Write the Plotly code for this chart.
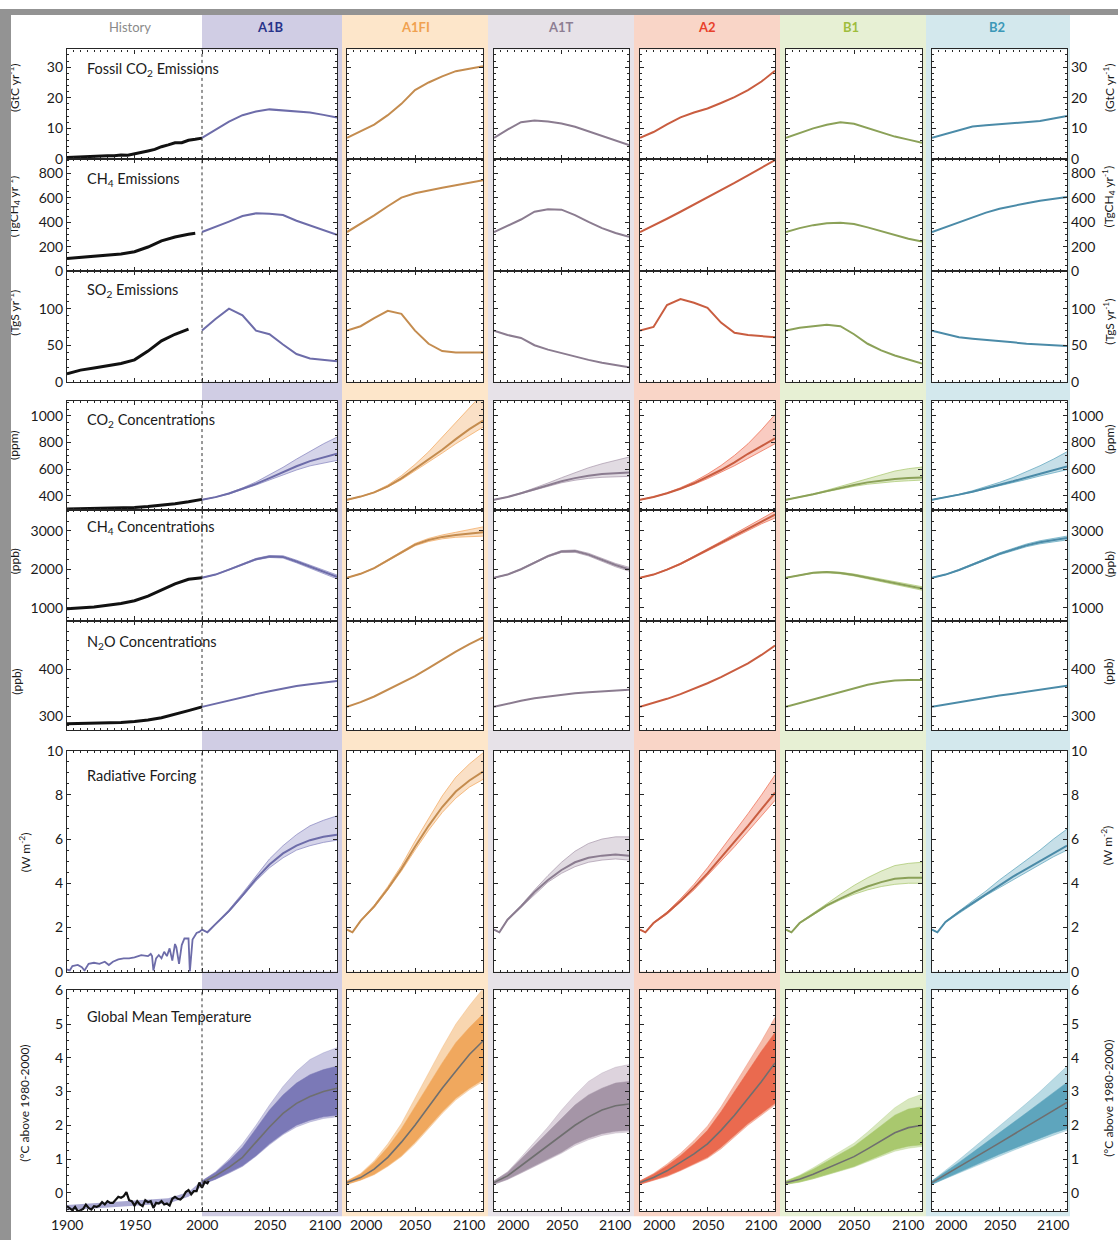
import plotly.graph_objects as go

W, H = 1118, 1240

# ---------------- data ----------------
SCENARIOS = ["A1B", "A1FI", "A1T", "A2", "B1", "B2"]
HEADER_LABELS = ["History", "A1B", "A1FI", "A1T", "A2", "B1", "B2"]
YEARS = [2000, 2010, 2020, 2030, 2040, 2050, 2060, 2070, 2080, 2090, 2100]
RF_YEARS = [2000, 2004, 2010, 2020, 2030, 2040, 2050, 2060, 2070, 2080, 2090, 2100]

ROW_TITLES = ["Fossil CO<sub>2</sub> Emissions", "CH<sub>4</sub> Emissions", "SO<sub>2</sub> Emissions",
              "CO<sub>2</sub> Concentrations", "CH<sub>4</sub> Concentrations", "N<sub>2</sub>O Concentrations",
              "Radiative Forcing", "Global Mean Temperature"]
ROW_UNITS = ["(GtC yr<sup>-1</sup>)", "(TgCH<sub>4</sub> yr<sup>-1</sup>)", "(TgS yr<sup>-1</sup>)",
             "(ppm)", "(ppb)", "(ppb)", "(W m<sup>-2</sup>)", "(°C above 1980-2000)"]
ROW_TICKS = [[0, 10, 20, 30], [0, 200, 400, 600, 800], [0, 50, 100],
             [400, 600, 800, 1000], [1000, 2000, 3000], [300, 400],
             [0, 2, 4, 6, 8, 10], [0, 1, 2, 3, 4, 5, 6]]
ROW_RANGES = [[0, 35.8], [0, 915], [0, 151], [292, 1115], [667, 3538], [271, 503], [0, 10], [-0.55, 6]]
ROW_MINOR = [2, 50, 10, 50, 250, 20, 0.5, 0.25]
HIST_XTICKS = [1900, 1950, 2000, 2050, 2100]
SCEN_XTICKS = [2000, 2050, 2100]

# history
HIST_CO2E_YRS = [1900, 1905, 1910, 1915, 1920, 1925, 1930, 1935, 1940, 1945, 1950, 1955, 1960, 1965, 1970,
                 1975, 1980, 1985, 1990, 1995, 2000]
HIST_CO2E = [0.5, 0.6, 0.8, 0.9, 0.95, 1.0, 1.05, 1.0, 1.3, 1.2, 1.6, 2.0, 2.6, 3.1, 4.0, 4.6, 5.3, 5.3,
             6.1, 6.4, 6.8]
HIST_CH4E_YRS = [1900, 1910, 1920, 1930, 1940, 1950, 1960, 1970, 1980, 1990, 1995]
HIST_CH4E = [105, 115, 125, 135, 142, 160, 198, 248, 280, 302, 310]
HIST_SO2_YRS = [1900, 1910, 1920, 1930, 1940, 1950, 1960, 1970, 1980, 1990]
HIST_SO2 = [11, 16, 19, 22, 25, 30, 42, 56, 65, 72]
HIST_CO2C_YRS = [1900, 1920, 1940, 1950, 1960, 1970, 1980, 1990, 2000]
HIST_CO2C = [300, 304, 309, 312, 318, 326, 339, 354, 372]
HIST_CH4C_YRS = [1900, 1920, 1940, 1950, 1960, 1970, 1980, 1990, 2000]
HIST_CH4C = [975, 1020, 1110, 1180, 1300, 1470, 1620, 1740, 1780]
HIST_N2O_YRS = [1900, 1920, 1940, 1950, 1960, 1970, 1980, 1990, 2000]
HIST_N2O = [284, 285, 287, 289, 292, 297, 304, 312, 320]
HIST_RF_YRS = [1900, 1902, 1904, 1908, 1911, 1913, 1916, 1920, 1924, 1928, 1931, 1934, 1938, 1942, 1946,
               1950, 1955, 1960, 1962, 1963, 1964, 1966, 1968, 1970, 1972, 1974, 1976, 1978, 1980, 1981,
               1983, 1985, 1987, 1990, 1991, 1993, 1996, 1998, 2000]
HIST_RF = [0.1, 0.05, 0.25, 0.3, 0.2, 0.05, 0.35, 0.4, 0.35, 0.45, 0.3, 0.45, 0.55, 0.6, 0.6,
           0.65, 0.75, 0.7, 0.8, 0.7, 0.05, 0.6, 0.75, 0.6, 0.9, 0.7, 1.05, 0.5, 1.25, 1.1,
           0.35, 1.2, 1.5, 1.5, 0.0, 1.45, 1.75, 1.8, 1.9]
HIST_T_YRS = [1900, 1902, 1904, 1906, 1908, 1910, 1912, 1914, 1916, 1918, 1920, 1922, 1924, 1926, 1928,
              1930, 1932, 1934, 1936, 1938, 1940, 1942, 1944, 1946, 1948, 1950, 1952, 1954, 1956, 1958,
              1960, 1962, 1964, 1966, 1968, 1970, 1972, 1974, 1976, 1978, 1980, 1982, 1984, 1986, 1988,
              1990, 1992, 1994, 1996, 1998, 2000, 2002, 2004, 2005]
HIST_T = [-0.40, -0.45, -0.52, -0.42, -0.55, -0.52, -0.48, -0.35, -0.45, -0.50, -0.40, -0.42, -0.38, -0.28,
          -0.35, -0.25, -0.30, -0.30, -0.22, -0.12, -0.15, -0.10, 0.02, -0.22, -0.25, -0.38, -0.25, -0.35,
          -0.40, -0.22, -0.28, -0.25, -0.45, -0.30, -0.32, -0.25, -0.35, -0.32, -0.38, -0.18, -0.12, -0.18,
          -0.20, -0.12, 0.02, 0.08, -0.05, 0.05, 0.05, 0.30, 0.15, 0.32, 0.28, 0.35]
HIST_TBAND_YRS = [1900, 1925, 1950, 1975, 1990, 2000]
HIST_TBAND_LO = [-0.52, -0.46, -0.38, -0.32, -0.12, 0.2]
HIST_TBAND_HI = [-0.36, -0.30, -0.22, -0.16, 0.02, 0.36]

# scenario emissions
CO2E = {"A1B": [6.9, 9.5, 12.2, 14.3, 15.5, 16.2, 15.9, 15.6, 15.2, 14.4, 13.5],
        "A1FI": [6.9, 9.0, 11.2, 14.3, 18.0, 22.5, 25.0, 27.0, 28.7, 29.5, 30.3],
        "A1T": [6.9, 9.6, 12.0, 12.6, 12.2, 11.6, 10.5, 9.0, 7.5, 6.0, 4.5],
        "A2": [6.9, 8.8, 11.3, 13.6, 15.2, 16.5, 18.3, 20.2, 22.5, 25.3, 28.8],
        "B1": [6.9, 8.5, 10.0, 11.2, 12.0, 11.5, 10.1, 8.6, 7.3, 6.3, 5.3],
        "B2": [6.9, 8.2, 9.5, 10.6, 11.0, 11.4, 11.7, 12.0, 12.4, 13.2, 14.0]}
CH4E = {"A1B": [320, 360, 405, 450, 472, 468, 458, 412, 372, 333, 298],
        "A1FI": [320, 385, 455, 530, 600, 635, 660, 680, 700, 720, 742],
        "A1T": [320, 370, 422, 485, 506, 502, 458, 402, 352, 312, 282],
        "A2": [320, 372, 428, 485, 543, 600, 660, 720, 782, 843, 905],
        "B1": [320, 352, 376, 392, 395, 385, 358, 326, 294, 266, 242],
        "B2": [320, 360, 402, 443, 478, 510, 535, 555, 575, 592, 605]}
SO2E = {"A1B": [70, 86, 100, 91, 70, 65, 51, 38, 32, 30, 28],
        "A1FI": [70, 76, 87, 97, 93, 70, 52, 42, 40, 40, 40],
        "A1T": [70, 64, 60, 50, 44, 39, 34, 30, 26, 23, 20],
        "A2": [70, 75, 105, 113, 108, 101, 81, 67, 64, 62, 61],
        "B1": [70, 74, 76, 78, 76, 65, 52, 43, 36, 30, 25],
        "B2": [70, 65, 61, 59, 57, 56, 54, 52, 51, 50, 49]}

# concentrations (mid, low, high)
CO2C_MID = {"A1B": [369, 389, 416, 450, 489, 532, 577, 621, 660, 690, 715],
            "A1FI": [369, 393, 425, 470, 530, 600, 670, 745, 825, 900, 965],
            "A1T": [369, 390, 418, 448, 480, 508, 532, 550, 562, 570, 575],
            "A2": [369, 390, 418, 452, 493, 540, 593, 651, 715, 772, 830],
            "B1": [369, 388, 410, 434, 458, 480, 500, 515, 525, 532, 536],
            "B2": [369, 387, 408, 430, 455, 480, 508, 537, 566, 595, 620]}
CO2C_LO = {"A1B": [369, 388, 413, 445, 480, 518, 557, 593, 624, 647, 665],
           "A1FI": [369, 392, 422, 465, 520, 585, 650, 720, 790, 855, 915],
           "A1T": [369, 389, 415, 443, 472, 497, 516, 530, 538, 542, 545],
           "A2": [369, 389, 416, 448, 485, 528, 575, 625, 680, 735, 790],
           "B1": [369, 387, 408, 430, 451, 470, 486, 498, 506, 512, 517],
           "B2": [369, 386, 406, 427, 450, 473, 497, 522, 548, 573, 595]}
CO2C_HI = {"A1B": [369, 390, 420, 458, 503, 555, 613, 675, 735, 790, 840],
           "A1FI": [369, 394, 428, 480, 550, 635, 730, 840, 950, 1060, 1170],
           "A1T": [369, 391, 421, 456, 495, 535, 575, 610, 640, 665, 690],
           "A2": [369, 391, 421, 460, 506, 562, 627, 703, 790, 895, 1010],
           "B1": [369, 389, 413, 441, 470, 500, 530, 560, 585, 603, 615],
           "B2": [369, 388, 411, 437, 467, 500, 537, 578, 625, 675, 730]}
CH4C_MID = {"A1B": [1780, 1860, 1990, 2130, 2260, 2330, 2320, 2200, 2060, 1930, 1800],
            "A1FI": [1780, 1880, 2030, 2230, 2450, 2640, 2760, 2840, 2890, 2930, 2960],
            "A1T": [1780, 1860, 2000, 2170, 2340, 2460, 2470, 2380, 2240, 2110, 2000],
            "A2": [1780, 1860, 1990, 2140, 2320, 2500, 2690, 2880, 3060, 3240, 3420],
            "B1": [1780, 1850, 1905, 1925, 1900, 1850, 1780, 1710, 1640, 1570, 1500],
            "B2": [1780, 1860, 1980, 2110, 2260, 2400, 2520, 2620, 2700, 2760, 2810]}
CH4C_LO = {"A1B": [1780, 1855, 1980, 2115, 2240, 2305, 2290, 2165, 2020, 1885, 1750],
           "A1FI": [1780, 1875, 2020, 2215, 2430, 2610, 2720, 2790, 2830, 2850, 2860],
           "A1T": [1780, 1855, 1990, 2155, 2320, 2435, 2440, 2345, 2200, 2065, 1950],
           "A2": [1780, 1855, 1980, 2125, 2300, 2475, 2660, 2840, 3010, 3180, 3330],
           "B1": [1780, 1845, 1895, 1910, 1880, 1825, 1750, 1675, 1600, 1525, 1455],
           "B2": [1780, 1855, 1970, 2095, 2240, 2375, 2490, 2585, 2660, 2715, 2760]}
CH4C_HI = {"A1B": [1780, 1865, 2000, 2145, 2280, 2355, 2350, 2235, 2100, 1975, 1850],
           "A1FI": [1780, 1885, 2040, 2245, 2470, 2670, 2800, 2890, 2960, 3030, 3100],
           "A1T": [1780, 1865, 2010, 2185, 2360, 2485, 2500, 2415, 2280, 2150, 2050],
           "A2": [1780, 1865, 2000, 2155, 2340, 2525, 2720, 2920, 3110, 3300, 3510],
           "B1": [1780, 1855, 1915, 1940, 1920, 1875, 1810, 1745, 1680, 1615, 1545],
           "B2": [1780, 1865, 1990, 2125, 2280, 2425, 2550, 2655, 2740, 2805, 2860]}
N2OC = {"A1B": [320, 327, 334, 340, 347, 353, 359, 364, 368, 372, 375],
        "A1FI": [320, 330, 342, 356, 370, 385, 402, 420, 437, 453, 467],
        "A1T": [320, 327, 333, 338, 342, 346, 349, 351, 353, 355, 356],
        "A2": [320, 328, 337, 347, 358, 370, 383, 397, 412, 430, 450],
        "B1": [320, 328, 336, 344, 352, 360, 367, 372, 376, 377, 377],
        "B2": [320, 325, 330, 335, 340, 344, 348, 352, 356, 360, 365]}

# radiative forcing (mid, low, high)
RF_MID = {"A1B": [1.9, 1.78, 2.15, 2.75, 3.45, 4.2, 4.85, 5.35, 5.7, 5.95, 6.1, 6.2],
          "A1FI": [1.9, 1.78, 2.3, 2.95, 3.75, 4.65, 5.65, 6.6, 7.45, 8.15, 8.65, 9.05],
          "A1T": [1.9, 1.78, 2.35, 2.95, 3.6, 4.15, 4.6, 4.95, 5.15, 5.25, 5.3, 5.25],
          "A2": [1.9, 1.78, 2.2, 2.65, 3.2, 3.8, 4.45, 5.15, 5.85, 6.6, 7.35, 8.1],
          "B1": [1.9, 1.78, 2.2, 2.6, 3.0, 3.3, 3.6, 3.85, 4.05, 4.2, 4.25, 4.25],
          "B2": [1.9, 1.78, 2.25, 2.7, 3.1, 3.5, 3.9, 4.3, 4.65, 5.0, 5.35, 5.7]}
RF_LO = {"A1B": [1.9, 1.78, 2.13, 2.7, 3.4, 4.1, 4.7, 5.15, 5.5, 5.7, 5.85, 5.95],
         "A1FI": [1.9, 1.78, 2.28, 2.9, 3.7, 4.55, 5.5, 6.4, 7.2, 7.85, 8.35, 8.7],
         "A1T": [1.9, 1.78, 2.33, 2.9, 3.5, 4.05, 4.45, 4.75, 4.95, 5.05, 5.1, 5.05],
         "A2": [1.9, 1.78, 2.18, 2.6, 3.15, 3.7, 4.35, 5.0, 5.65, 6.35, 7.05, 7.75],
         "B1": [1.9, 1.78, 2.18, 2.55, 2.95, 3.25, 3.5, 3.7, 3.85, 3.95, 4.0, 4.0],
         "B2": [1.9, 1.78, 2.23, 2.65, 3.05, 3.45, 3.8, 4.15, 4.5, 4.85, 5.2, 5.5]}
RF_HI = {"A1B": [1.9, 1.78, 2.17, 2.8, 3.55, 4.35, 5.1, 5.7, 6.2, 6.6, 6.85, 7.05],
         "A1FI": [1.9, 1.78, 2.32, 3.0, 3.85, 4.8, 5.9, 6.95, 7.95, 8.8, 9.4, 9.9],
         "A1T": [1.9, 1.78, 2.37, 3.0, 3.7, 4.35, 4.95, 5.45, 5.8, 6.0, 6.1, 6.1],
         "A2": [1.9, 1.78, 2.22, 2.7, 3.3, 3.95, 4.7, 5.5, 6.3, 7.15, 8.0, 8.9],
         "B1": [1.9, 1.78, 2.22, 2.65, 3.1, 3.5, 3.9, 4.25, 4.55, 4.8, 4.9, 4.95],
         "B2": [1.9, 1.78, 2.27, 2.75, 3.2, 3.65, 4.15, 4.6, 5.05, 5.5, 6.0, 6.45]}

# temperature: median, inner band, outer band
T_MED = {"A1B": [0.3, 0.5, 0.75, 1.05, 1.5, 1.95, 2.35, 2.65, 2.85, 3.0, 3.1],
         "A1FI": [0.3, 0.45, 0.7, 1.05, 1.5, 2.0, 2.55, 3.1, 3.6, 4.1, 4.5],
         "A1T": [0.3, 0.5, 0.8, 1.1, 1.4, 1.7, 2.0, 2.25, 2.45, 2.58, 2.63],
         "A2": [0.3, 0.45, 0.65, 0.9, 1.15, 1.45, 1.85, 2.3, 2.8, 3.3, 3.85],
         "B1": [0.3, 0.4, 0.55, 0.72, 0.9, 1.07, 1.3, 1.55, 1.78, 1.93, 2.0],
         "B2": [0.3, 0.53, 0.77, 1.0, 1.24, 1.48, 1.72, 1.96, 2.2, 2.44, 2.68]}
T_IN_HI = {"A1B": [0.35, 0.6, 0.95, 1.35, 1.9, 2.45, 2.9, 3.25, 3.5, 3.65, 3.75],
           "A1FI": [0.35, 0.55, 0.9, 1.35, 1.9, 2.55, 3.2, 3.85, 4.45, 4.9, 5.3],
           "A1T": [0.35, 0.6, 1.0, 1.4, 1.8, 2.2, 2.6, 2.9, 3.1, 3.25, 3.3],
           "A2": [0.35, 0.55, 0.8, 1.1, 1.45, 1.85, 2.4, 3.0, 3.6, 4.2, 4.75],
           "B1": [0.35, 0.5, 0.7, 0.92, 1.15, 1.38, 1.68, 2.0, 2.3, 2.48, 2.55],
           "B2": [0.35, 0.62, 0.9, 1.19, 1.48, 1.77, 2.07, 2.37, 2.67, 2.97, 3.27]}
T_IN_LO = {"A1B": [0.25, 0.4, 0.6, 0.8, 1.1, 1.45, 1.75, 2.0, 2.15, 2.25, 2.3],
           "A1FI": [0.25, 0.38, 0.55, 0.8, 1.1, 1.5, 1.95, 2.4, 2.8, 3.1, 3.35],
           "A1T": [0.25, 0.4, 0.6, 0.8, 1.0, 1.2, 1.45, 1.62, 1.75, 1.82, 1.85],
           "A2": [0.25, 0.37, 0.5, 0.67, 0.85, 1.05, 1.35, 1.7, 2.05, 2.35, 2.65],
           "B1": [0.25, 0.32, 0.42, 0.54, 0.66, 0.78, 0.95, 1.12, 1.28, 1.38, 1.42],
           "B2": [0.25, 0.43, 0.6, 0.78, 0.96, 1.14, 1.3, 1.46, 1.62, 1.77, 1.9]}
T_OUT_HI = {"A1B": [0.35, 0.62, 1.0, 1.45, 2.0, 2.6, 3.15, 3.6, 3.95, 4.15, 4.3],
            "A1FI": [0.35, 0.57, 0.95, 1.45, 2.05, 2.8, 3.55, 4.3, 5.0, 5.55, 6.05],
            "A1T": [0.35, 0.62, 1.05, 1.5, 1.95, 2.45, 2.9, 3.3, 3.55, 3.72, 3.8],
            "A2": [0.35, 0.57, 0.85, 1.17, 1.55, 1.98, 2.55, 3.2, 3.85, 4.5, 5.2],
            "B1": [0.35, 0.52, 0.74, 0.98, 1.22, 1.47, 1.8, 2.17, 2.52, 2.78, 2.92],
            "B2": [0.35, 0.66, 0.98, 1.31, 1.64, 1.97, 2.3, 2.65, 3.0, 3.37, 3.75]}
T_OUT_LO = {"A1B": [0.25, 0.4, 0.58, 0.78, 1.08, 1.42, 1.72, 1.95, 2.1, 2.2, 2.25],
            "A1FI": [0.25, 0.37, 0.53, 0.78, 1.07, 1.45, 1.9, 2.35, 2.75, 3.05, 3.3],
            "A1T": [0.25, 0.39, 0.58, 0.78, 0.97, 1.17, 1.4, 1.57, 1.7, 1.77, 1.8],
            "A2": [0.25, 0.36, 0.48, 0.65, 0.83, 1.02, 1.3, 1.65, 2.0, 2.3, 2.6],
            "B1": [0.25, 0.31, 0.41, 0.52, 0.64, 0.76, 0.92, 1.08, 1.23, 1.32, 1.37],
            "B2": [0.25, 0.42, 0.58, 0.75, 0.92, 1.09, 1.25, 1.41, 1.56, 1.71, 1.85]}

# ---------------- styles / geometry ----------------
FONT = "Lato"
FRAME = "#262626"
LINE_COL = {"A1B": "#6d6ca9", "A1FI": "#c48c4f", "A1T": "#8b7c90", "A2": "#c95d40", "B1": "#8ba158", "B2": "#4b8ba8"}
BAND_COL = {"A1B": "#8684bf", "A1FI": "#f2a75c", "A1T": "#a998ab", "A2": "#ee6a4e", "B1": "#a8c76e", "B2": "#5ca4bc"}
T_DARK = {"A1B": "#7b79b7", "A1FI": "#f0a85e", "A1T": "#a595a7", "A2": "#ea6a4f", "B1": "#a9c86e", "B2": "#5ea5bd"}
T_LIGHT = {"A1B": "#cac8e2", "A1FI": "#f8d6b0", "A1T": "#ddd3dd", "A2": "#f6bcab", "B1": "#d9e8c0", "B2": "#badbe4"}
BG_COL = ["#d0cde4", "#fde6ca", "#e7e2e8", "#f9d5c7", "#e7f0d4", "#d3e8ed"]
HEAD_COL = ["#8a8a8a", "#27338a", "#f0a14f", "#8d7e93", "#e8412b", "#9fbd3c", "#3b98b8"]
HEAD_X = [130, 270, 415, 561, 707, 851, 997]

COL_X = [(67, 337), (347, 483), (494, 629), (640, 775), (786, 922), (932, 1067)]
ROW_Y = [(41, 152), (152, 266), (266, 378), (397, 508), (508, 620), (620, 731), (752, 976), (995, 1219)]
GROUPS = [(41, 378), (397, 731), (752, 976), (995, 1219)]
BANDS_X = [(202, 342), (342, 488), (488, 634), (634, 780), (780, 926), (926, 1070)]
TITLE_Y = [61, 173, 285, 417, 526, 642, 777, 1021]
LUNIT_Y = [80, 200, 308, 443, 560, 682, 855, 1110]
LUNIT_X = [14, 14, 14, 14, 14, 17, 25, 25]
RUNIT_Y = [80, 190, 317, 437, 563, 672, 848, 1105]
RUNIT_X = [1109, 1109, 1109, 1109, 1109, 1109, 1107, 1109]


def rgba(h, a):
    h = h.lstrip('#')
    return "rgba(%d,%d,%d,%s)" % (int(h[0:2], 16), int(h[2:4], 16), int(h[4:6], 16), a)


def names(r, c):
    n = r * 6 + c + 1
    s = "" if n == 1 else str(n)
    return "x" + s, "y" + s, "xaxis" + s, "yaxis" + s


fig = go.Figure()
layout = {}
shapes = []
annotations = []
TICKFONT = dict(family=FONT, size=14, color="#1a1a1a")

# background bands
shapes.append(dict(type="rect", xref="paper", yref="paper", x0=0, x1=1, y0=1 - 6 / H, y1=1,
                   fillcolor="#939393", line_width=0, layer="below"))
for i, (a, b) in enumerate(BANDS_X):
    shapes.append(dict(type="rect", xref="paper", yref="paper", x0=a / W, x1=b / W, y0=1 - 1224 / H,
                       y1=1 - 6 / H, fillcolor=BG_COL[i], line_width=0, layer="below"))
for (x0, x1) in COL_X:
    for (g0, g1) in GROUPS:
        shapes.append(dict(type="rect", xref="paper", yref="paper", x0=x0 / W, x1=x1 / W,
                           y0=1 - g1 / H, y1=1 - g0 / H, fillcolor="white", line_width=0, layer="below"))

for r in range(8):
    for c in range(6):
        xn, yn, xk, yk = names(r, c)
        x0, x1 = COL_X[c]
        y0, y1 = ROW_Y[r]
        layout[xk] = dict(domain=[x0 / W, x1 / W], anchor=yn,
                          range=[1900, 2100] if c == 0 else [2000, 2100],
                          tickvals=HIST_XTICKS if c == 0 else SCEN_XTICKS,
                          showticklabels=False, ticks="inside", ticklen=4, tickwidth=1, tickcolor=FRAME,
                          showline=True, linecolor=FRAME, linewidth=1.2, mirror="ticks",
                          showgrid=False, zeroline=False, fixedrange=True,
                          minor=dict(ticks="inside", ticklen=2, dtick=5, tickcolor=FRAME, tickwidth=0.8))
        layout[yk] = dict(domain=[1 - y1 / H, 1 - y0 / H], anchor=xn, range=ROW_RANGES[r],
                          tickvals=ROW_TICKS[r], showticklabels=(c == 0 or c == 5),
                          side="right" if c == 5 else "left",
                          ticks="inside", ticklen=4, tickwidth=1, tickcolor=FRAME,
                          showline=True, linecolor=FRAME, linewidth=1.2, mirror="ticks",
                          showgrid=False, zeroline=False, fixedrange=True, tickfont=TICKFONT,
                          minor=dict(ticks="inside", ticklen=2, dtick=ROW_MINOR[r], tickcolor=FRAME,
                                     tickwidth=0.8))
        if c == 0:
            shapes.append(dict(type="line", xref=xn, yref=yn + " domain", x0=2000, x1=2000, y0=0, y1=1,
                               line=dict(color="#333", width=1, dash="dot"), layer="above"))


def line(xn, yn, xs, ys, color, width):
    fig.add_trace(go.Scatter(x=xs, y=ys, xaxis=xn, yaxis=yn, mode="lines",
                             line=dict(color=color, width=width), hoverinfo="skip", showlegend=False))


def band(xn, yn, xs, lo, hi, fill, edge=None, ew=0.0):
    fig.add_trace(go.Scatter(x=xs, y=lo, xaxis=xn, yaxis=yn, mode="lines",
                             line=dict(color=edge or fill, width=ew), hoverinfo="skip", showlegend=False))
    fig.add_trace(go.Scatter(x=xs, y=hi, xaxis=xn, yaxis=yn, mode="lines", fill="tonexty", fillcolor=fill,
                             line=dict(color=edge or fill, width=ew), hoverinfo="skip", showlegend=False))


for c, s in enumerate(SCENARIOS):
    # emissions
    for r, d in enumerate([CO2E, CH4E, SO2E]):
        xn, yn, _, _ = names(r, c)
        line(xn, yn, YEARS, d[s], LINE_COL[s], 2)
    # concentrations
    for r, (m, lo, hi) in zip([3, 4], [(CO2C_MID, CO2C_LO, CO2C_HI), (CH4C_MID, CH4C_LO, CH4C_HI)]):
        xn, yn, _, _ = names(r, c)
        band(xn, yn, YEARS, lo[s], hi[s], rgba(BAND_COL[s], 0.35), rgba(BAND_COL[s], 0.9), 0.8)
        line(xn, yn, YEARS, m[s], LINE_COL[s], 2)
    xn, yn, _, _ = names(5, c)
    line(xn, yn, YEARS, N2OC[s], LINE_COL[s], 2)
    # radiative forcing
    xn, yn, _, _ = names(6, c)
    band(xn, yn, RF_YEARS, RF_LO[s], RF_HI[s], rgba(BAND_COL[s], 0.35), rgba(BAND_COL[s], 0.9), 0.8)
    line(xn, yn, RF_YEARS, RF_MID[s], LINE_COL[s], 2)
    # temperature
    xn, yn, _, _ = names(7, c)
    band(xn, yn, YEARS, T_OUT_LO[s], T_OUT_HI[s], T_LIGHT[s], rgba(T_DARK[s], 0.5), 0.6)
    band(xn, yn, YEARS, T_IN_LO[s], T_IN_HI[s], T_DARK[s], T_DARK[s], 0.5)
    line(xn, yn, YEARS, T_MED[s], "#6f6f6f", 1.6)

# history
HK = "#111111"
line("x", "y", HIST_CO2E_YRS, HIST_CO2E, HK, 3)
line("x7", "y7", HIST_CH4E_YRS, HIST_CH4E, HK, 3)
line("x13", "y13", HIST_SO2_YRS, HIST_SO2, HK, 3)
line("x19", "y19", HIST_CO2C_YRS, HIST_CO2C, HK, 3)
line("x25", "y25", HIST_CH4C_YRS, HIST_CH4C, HK, 3)
line("x31", "y31", HIST_N2O_YRS, HIST_N2O, HK, 3)
line("x37", "y37", HIST_RF_YRS, HIST_RF, LINE_COL["A1B"], 1.8)
band("x43", "y43", HIST_TBAND_YRS, HIST_TBAND_LO, HIST_TBAND_HI, rgba(BAND_COL["A1B"], 0.7))
line("x43", "y43", HIST_T_YRS, HIST_T, HK, 2.2)

# header labels
for i, lab in enumerate(HEADER_LABELS):
    txt = lab if i == 0 else "<b>%s</b>" % lab
    annotations.append(dict(text=txt, x=HEAD_X[i] / W, y=1 - 18 / H, xref="paper", yref="paper",
                            xanchor="center", yanchor="middle",
                            showarrow=False, font=dict(family=FONT, size=13, color=HEAD_COL[i])))
# panel titles & units
for r in range(8):
    annotations.append(dict(text=ROW_TITLES[r], x=85 / W, y=1 - TITLE_Y[r] / H, xref="paper", yref="paper",
                            xanchor="left", yanchor="middle", showarrow=False,
                            font=dict(family=FONT, size=14.5, color="#1a1a1a")))
    annotations.append(dict(text=ROW_UNITS[r], x=LUNIT_X[r] / W, y=1 - LUNIT_Y[r] / H, xref="paper",
                            yref="paper", textangle=-90, showarrow=False, xanchor="center", yanchor="middle",
                            font=dict(family=FONT, size=12, color="#1a1a1a")))
    annotations.append(dict(text=ROW_UNITS[r], x=RUNIT_X[r] / W, y=1 - RUNIT_Y[r] / H, xref="paper",
                            yref="paper", textangle=-90, showarrow=False, xanchor="center", yanchor="middle",
                            font=dict(family=FONT, size=12, color="#1a1a1a")))
# bottom x tick labels
for c in range(6):
    xn, yn, _, _ = names(7, c)
    ticks = HIST_XTICKS if c == 0 else SCEN_XTICKS
    for t in ticks:
        if t == 2100:
            xa, sh = "right", (6 if c == 0 else 4)
        elif t == 2000 and c > 0:
            xa, sh = "left", 1
        else:
            xa, sh = "center", 0
        annotations.append(dict(text=str(t), x=t, xref=xn, y=1 - 1232 / H, yref="paper", xanchor=xa,
                                xshift=sh, yanchor="middle", showarrow=False, font=TICKFONT))
# left gray strip (drawn last so it covers clipped unit labels)
annotations.append(dict(text=" ", x=0, y=1, xref="paper", yref="paper", xanchor="left", yanchor="top",
                        width=11, height=H, bgcolor="#939393", borderpad=0, borderwidth=0, showarrow=False))

fig.update_layout(width=W, height=H, margin=dict(l=0, r=0, t=0, b=0), paper_bgcolor="white",
                  plot_bgcolor="rgba(0,0,0,0)", showlegend=False, shapes=shapes, annotations=annotations,
                  **layout)
fig.write_html("out.html", config={"displayModeBar": False},
               post_script="document.body.style.margin='0';document.body.style.overflow='hidden';")
